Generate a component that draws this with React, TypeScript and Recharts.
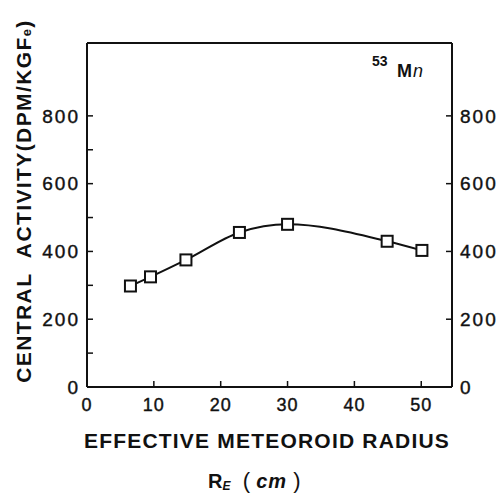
import React from 'react';
import { LineChart, Line, XAxis, YAxis, Customized } from 'recharts';

const radius = [6.5, 9.5, 14.8, 22.8, 30.0, 44.9, 50.1];
const activity = [298, 325, 375, 456, 480, 430, 403];
const xTicks = [0, 10, 20, 30, 40, 50];
const yTicksLeft = [0, 100, 200, 300, 400, 500, 600, 700, 800];
const yTicksRight = [0, 200, 400, 600, 800];

const data = radius.map((r, i) => ({ r, a: activity[i] }));

const FONT = '"Liberation Sans", Arial, sans-serif';
const INK = '#111';

const SquareDot = (props: any) => {
  const { cx, cy, index } = props;
  if (cx == null || cy == null) return <g key={`d${index}`} />;
  const s = 11;
  return (
    <rect
      key={`d${index}`}
      x={cx - s / 2}
      y={cy - s / 2}
      width={s}
      height={s}
      fill="#fff"
      stroke={INK}
      strokeWidth={2}
    />
  );
};

const tickStyle = {
  fill: INK,
  fontSize: 19,
  fontFamily: FONT,
  letterSpacing: 2,
  stroke: INK,
  strokeWidth: 0.4,
};

const Texts = () => (
  <g fontFamily={FONT} fill={INK}>
    <text
      x={23}
      y={201}
      transform="rotate(-90, 23, 201)"
      textAnchor="middle"
      dominantBaseline="central"
      fontSize={21}
      fontWeight="bold"
      letterSpacing={1.4}
    >
      CENTRAL{'\u00a0\u00a0'}ACTIVITY(DPM/KGF<tspan fontSize={13} dy={3}>e</tspan>
      <tspan dy={-3}>)</tspan>
    </text>
    <text
      x={267}
      y={448}
      textAnchor="middle"
      fontSize={21}
      fontWeight="bold"
      letterSpacing={1.2}
    >
      EFFECTIVE METEOROID RADIUS
    </text>
    <text x={208} y={488} fontSize={20} fontWeight="bold">
      R<tspan fontSize={12} fontStyle="italic" dy={2}>E</tspan>
      <tspan dy={-2} fontWeight="normal" fontSize={22}>{'\u00a0\u00a0(\u00a0'}</tspan>
      <tspan fontStyle="italic" letterSpacing={1}>cm</tspan>
      <tspan fontWeight="normal" fontSize={22}>{'\u00a0)'}</tspan>
    </text>
    <text x={372} y={66} fontSize={14} fontWeight="bold">53</text>
    <text x={397} y={77} fontSize={18} fontWeight="bold" letterSpacing={1}>
      M<tspan fontStyle="italic" fontWeight="normal">n</tspan>
    </text>
  </g>
);

export default function App() {
  return (
    <div style={{ position: 'absolute', left: 0, top: 0, background: '#fff' }}>
      <LineChart
        width={500}
        height={495}
        data={data}
        margin={{ top: 13, right: 8, bottom: 78, left: 27 }}
      >
        <XAxis
          xAxisId="bottom"
          dataKey="r"
          type="number"
          domain={[0, 54.6]}
          ticks={xTicks}
          allowDataOverflow
          height={30}
          axisLine={{ stroke: INK, strokeWidth: 2 }}
          tickLine={{ stroke: INK, strokeWidth: 1.5 }}
          tickSize={-6}
          tickMargin={17}
          tick={{ ...tickStyle, fontSize: 18, letterSpacing: 1 }}
        />
        <XAxis
          xAxisId="top"
          orientation="top"
          dataKey="r"
          type="number"
          domain={[0, 54.6]}
          ticks={xTicks.slice(1)}
          allowDataOverflow
          height={30}
          axisLine={{ stroke: INK, strokeWidth: 2 }}
          tickLine={{ stroke: INK, strokeWidth: 1.5 }}
          tickSize={-6}
          tick={false}
        />
        <YAxis
          yAxisId="left"
          type="number"
          domain={[0, 1015]}
          ticks={yTicksLeft}
          allowDataOverflow
          width={60}
          axisLine={{ stroke: INK, strokeWidth: 2 }}
          tickLine={{ stroke: INK, strokeWidth: 1.5 }}
          tickSize={-6}
          tickMargin={13}
          tickFormatter={(v: number) => (v % 200 === 0 ? String(v) : '')}
          tick={tickStyle}
        />
        <YAxis
          yAxisId="right"
          orientation="right"
          type="number"
          domain={[0, 1015]}
          ticks={yTicksRight}
          allowDataOverflow
          width={40}
          axisLine={{ stroke: INK, strokeWidth: 2 }}
          tickLine={{ stroke: INK, strokeWidth: 1.5 }}
          tickSize={-6}
          tickMargin={14}
          tick={tickStyle}
        />
        <Line
          xAxisId="bottom"
          yAxisId="left"
          dataKey="a"
          type="monotone"
          stroke={INK}
          strokeWidth={2}
          dot={SquareDot}
          activeDot={false}
          isAnimationActive={false}
        />
        <Customized component={Texts} />
      </LineChart>
    </div>
  );
}
